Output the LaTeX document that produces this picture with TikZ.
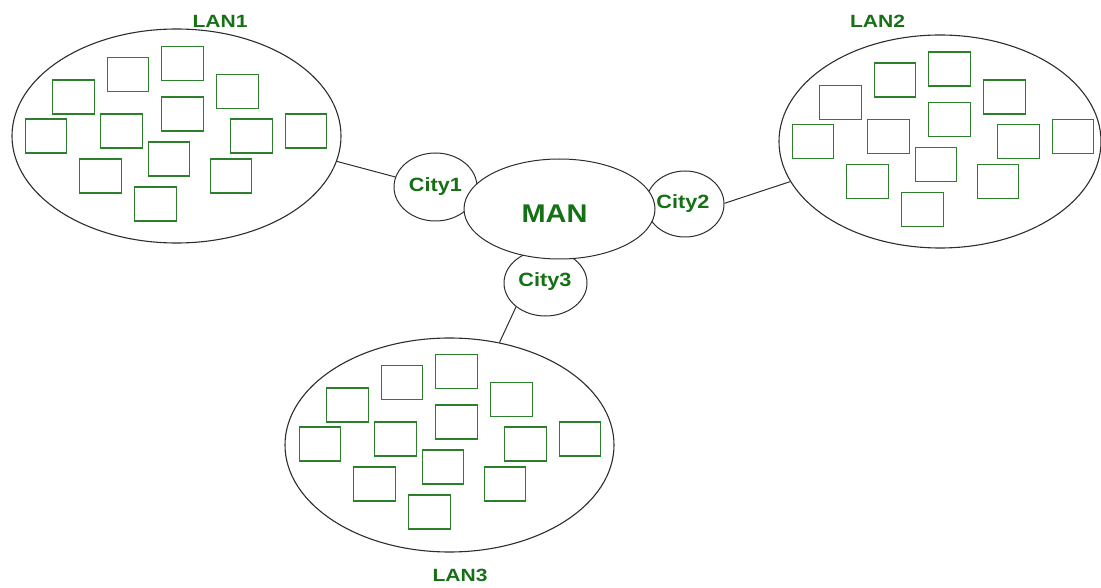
\documentclass[tikz,border=0pt]{standalone}
\usepackage{fontspec}
\setmainfont{Liberation Sans}
\usetikzlibrary{shapes.geometric}
\definecolor{lbltext}{RGB}{22,112,22}
\definecolor{pcgreen}{RGB}{44,128,44}
\definecolor{outline}{RGB}{45,45,45}
\tikzset{
  lanshape/.style={ellipse, draw=outline, line width=1.1pt, inner sep=0pt},
  cityshape/.style={ellipse, draw=outline, line width=1pt, inner sep=0pt, fill=white},
  pcbox/.style={rectangle, draw=pcgreen, line width=1.4pt, inner sep=0pt,
                minimum width=41.5pt, minimum height=34pt},
  link/.style={draw=outline, line width=1pt},
  lanlbl/.style={text=lbltext, font=\bfseries\fontsize{17.7}{20}\selectfont, inner sep=0pt},
  citylbl/.style={text=lbltext, font=\bfseries\fontsize{19.2}{22}\selectfont, inner sep=0pt},
  manlbl/.style={text=lbltext, font=\bfseries\fontsize{25.6}{28}\selectfont, inner sep=0pt}
}
% thirteen computers of one LAN, placed around a reference point
\newcommand{\lanboxes}[3]{%
  \foreach \dx/\dy [count=\i] in {6.5/-72.5, -48/-61.5, -102.5/-39, 61.5/-44.5,
      6.5/-22, -130/0, -54.5/-5, 75.5/0, 130/-5, -7/23, -75.5/40, 55/40, -20.5/68}
    \node[pcbox] (#1\i) at (#2+\dx, #3+\dy) {};%
}
\begin{document}
\begin{tikzpicture}[x=1pt, y=-1pt]
\useasboundingbox (0,0) rectangle (1101,588);

% the three local networks
\node[lanshape, minimum width=329pt, minimum height=214pt] (lan1) at (176.5,136) {};
\node[lanshape, minimum width=322pt, minimum height=213pt] (lan2) at (940,141.5) {};
\node[lanshape, minimum width=329pt, minimum height=214pt] (lan3) at (449.5,445) {};
\lanboxes{aa}{176}{136}
\lanboxes{bb}{943}{141.5}
\lanboxes{cc}{450}{444}

\node[lanlbl] (lan1t) at (220,21) {\scalebox{1.19}[1]{LAN1}};
\node[lanlbl] (lan2t) at (877.5,21) {\scalebox{1.19}[1]{LAN2}};
\node[lanlbl] (lan3t) at (460,575.5) {\scalebox{1.19}[1]{LAN3}};

% city gateways, partly hidden behind the metropolitan network
\node[cityshape, minimum width=83pt, minimum height=68pt] (city1) at (435.5,187) {};
\node[cityshape, minimum width=78pt, minimum height=66pt] (city2) at (685,204) {};
\node[cityshape, minimum width=83pt, minimum height=66pt] (city3) at (545.5,283) {};
\node[cityshape, minimum width=191pt, minimum height=100pt] (man) at (559.5,209) {};

\node[citylbl] (city1t) at (city1.center) {\scalebox{1.13}[1]{City1}};
\node[citylbl] (city2t) at (683,203.5) {\scalebox{1.13}[1]{City2}};
\node[citylbl] (city3t) at (545,282) {\scalebox{1.13}[1]{City3}};
\node[manlbl] (mant) at (554.5,214) {\scalebox{1.13}[1]{MAN}};

% links between LANs and cities
\draw[link] (lan1.-9.3) -- (city1.166);
\draw[link] (city2.1.5) -- (lan2.195.7);
\draw[link] (city3.219) -- (lan3.64.3);
\end{tikzpicture}
\end{document}
